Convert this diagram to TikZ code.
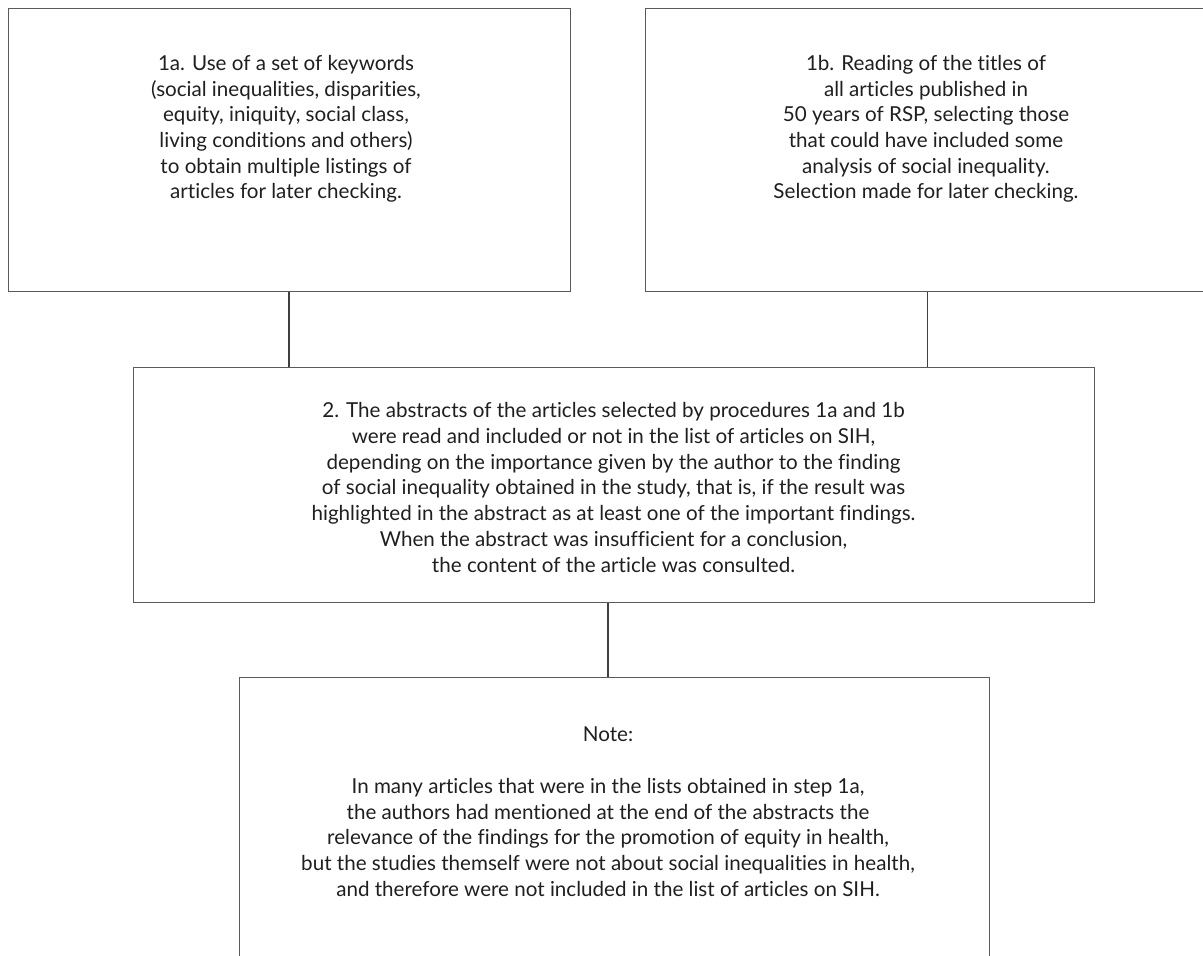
\documentclass[tikz,border=0pt]{standalone}
\usepackage{fontspec}
\setmainfont{Lato}[Ligatures={NoCommon}]
\begin{document}
\begin{tikzpicture}[x=1pt,y=-1pt,
  boxstyle/.style={draw=linegray,line width=1.4pt,rectangle,inner sep=0pt,anchor=north west},
  txt/.style={align=center,anchor=north,inner sep=0pt,text=black!88,
     font=\fontsize{20.6}{25.7}\selectfont},
  conn/.style={draw=black!75,line width=1.2pt}]
\definecolor{linegray}{HTML}{5A5A5A}
\useasboundingbox (0,0) rectangle (1203,956);
\begin{scope}
\clip (0,0) rectangle (1203,956);
\node[boxstyle,minimum width=562pt,minimum height=283pt] (b1a) at (8,8) {};
\node[boxstyle,minimum width=564pt,minimum height=283pt] (b1b) at (645,8) {};
\node[boxstyle,minimum width=961pt,minimum height=235pt] (b2) at (133,367) {};
\node[boxstyle,minimum width=750pt,minimum height=320pt] (bn) at (239,677) {};
\end{scope}
\node[txt] (t1a) at (286,55) {1a. Use of a set of keywords\\(social inequalities, disparities,\\equity, iniquity, social class,\\living conditions and others)\\to obtain multiple listings of\\articles for later checking.};
\node[txt] (t1b) at (926,55) {1b. Reading of the titles of\\all articles published in\\50 years of RSP, selecting those\\that could have included some\\analysis of social inequality.\\Selection made for later checking.};
\node[txt] (t2) at (613.5,402.5) {2. The abstracts of the articles selected by procedures 1a and 1b\\were read and included or not in the list of articles on SIH,\\depending on the importance given by the author to the finding\\of social inequality obtained in the study, that is, if the result was\\highlighted in the abstract as at least one of the important findings.\\When the abstract was insufficient for a conclusion,\\the content of the article was consulted.};
\node[txt] (tn) at (608,727) {Note:\\[25.7pt]In many articles that were in the lists obtained in step 1a,\\the authors had mentioned at the end of the abstracts the\\relevance of the findings for the promotion of equity in health,\\but the studies themself were not about social inequalities in health,\\and therefore were not included in the list of articles on SIH.};
\coordinate (c1a) at (289,0);
\coordinate (c2) at (608,0);
\draw[conn] (c1a |- b1a.south) -- (c1a |- b2.north);
\draw[conn] (b1b.south) -- (b1b.south |- b2.north);
\draw[conn] (c2 |- b2.south) -- (c2 |- bn.north);
\end{tikzpicture}
\end{document}
